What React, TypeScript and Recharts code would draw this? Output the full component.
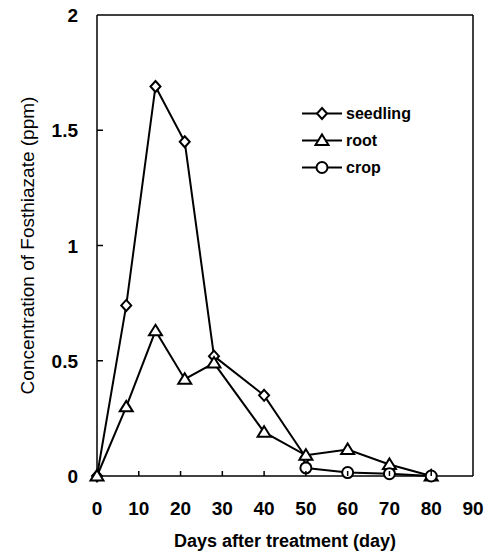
import React from 'react';
import { LineChart, Line, XAxis, YAxis, ReferenceLine, Legend, Label } from 'recharts';

const days = [0, 7, 14, 21, 28, 40, 50, 60, 70, 80];
const seedling = [0, 0.74, 1.69, 1.45, 0.52, 0.35, 0.08, null, null, null];
const root = [0, 0.3, 0.63, 0.42, 0.49, 0.19, 0.09, 0.115, 0.05, 0];
const crop = [null, null, null, null, null, null, 0.035, 0.015, 0.01, 0];

const xTicks = [0, 10, 20, 30, 40, 50, 60, 70, 80, 90];
const yTicks = [0, 0.5, 1, 1.5, 2];

const seriesOrder = ['seedling', 'root', 'crop'];

const data = days.map((d, i) => ({ day: d, seedling: seedling[i], root: root[i], crop: crop[i] }));

const FONT = '"Liberation Sans", Arial, sans-serif';

const Diamond = (cx: number, cy: number, key?: any) => (
  <polygon key={key} points={`${cx},${cy - 5.5} ${cx + 5},${cy} ${cx},${cy + 5.5} ${cx - 5},${cy}`} fill="#fff" stroke="#000" strokeWidth={2} />
);
const Triangle = (cx: number, cy: number, key?: any) => (
  <polygon key={key} points={`${cx},${cy - 6} ${cx + 6.5},${cy + 4.5} ${cx - 6.5},${cy + 4.5}`} fill="#fff" stroke="#000" strokeWidth={2} />
);
const Circle = (cx: number, cy: number, key?: any) => (
  <circle key={key} cx={cx} cy={cy} r={5.5} fill="#fff" stroke="#000" strokeWidth={2} />
);

const markers: Record<string, (cx: number, cy: number, key?: any) => any> = {
  seedling: Diamond,
  root: Triangle,
  crop: Circle,
};

const makeDot = (kind: string) => (props: any) => {
  const { cx, cy, index, value } = props;
  if (value == null || cx == null || cy == null) return <g key={`${kind}-${index}`} />;
  return markers[kind](cx, cy, `${kind}-${index}`);
};

const XTick = (props: any) => {
  const { x, y, payload } = props;
  const v = payload.value;
  return (
    <g>
      {v > 0 && v < 90 && <line x1={x} x2={x} y1={y} y2={y - 5} stroke="#000" strokeWidth={1.5} />}
      <text x={x} y={y + 39} textAnchor="middle" fontFamily={FONT} fontWeight="bold" fontSize={19} fill="#000">
        {v}
      </text>
    </g>
  );
};

const YTick = (props: any) => {
  const { x, y, payload } = props;
  const v = payload.value;
  return (
    <g>
      {v > 0 && v < 2 && <line x1={x} x2={x + 6} y1={y} y2={y} stroke="#000" strokeWidth={1.5} />}
      <text x={x - 19} y={y + 7} textAnchor="end" fontFamily={FONT} fontWeight="bold" fontSize={19} fill="#000">
        {v}
      </text>
    </g>
  );
};

const LegendContent = (props: any) => {
  const payload = [...(props.payload || [])].sort(
    (a: any, b: any) => seriesOrder.indexOf(a.dataKey) - seriesOrder.indexOf(b.dataKey)
  );
  return (
    <div style={{ fontFamily: FONT }}>
      {payload.map((p: any) => (
        <div key={p.dataKey} style={{ display: 'flex', alignItems: 'center', height: 27 }}>
          <svg width={42} height={27} style={{ display: 'block' }}>
            <line x1={1} x2={41} y1={13.5} y2={13.5} stroke="#000" strokeWidth={2} />
            {markers[p.dataKey](21, 13.5)}
          </svg>
          <span style={{ fontSize: 16, fontWeight: 'bold', marginLeft: 3, color: '#000', lineHeight: '27px' }}>
            {p.value}
          </span>
        </div>
      ))}
    </div>
  );
};

export default function App() {
  return (
    <div style={{ position: 'absolute', left: 0, top: 0, width: 495, height: 555, background: '#fff' }}>
      <LineChart width={495} height={555} data={data} margin={{ top: 15, right: 22, left: 0, bottom: 0 }}>
        <XAxis
          dataKey="day"
          type="number"
          domain={[0, 90]}
          ticks={xTicks}
          interval={0}
          height={79}
          tickSize={0}
          tickMargin={0}
          tickLine={false}
          tick={<XTick />}
          axisLine={{ stroke: '#000', strokeWidth: 1.5 }}
        >
          <Label
            value="Days after treatment (day)"
            position="insideBottom"
            offset={8}
            fill="#000"
            style={{ fontFamily: FONT, fontSize: 18, fontWeight: 'bold', fill: '#000' }}
          />
        </XAxis>
        <YAxis
          type="number"
          domain={[0, 2]}
          ticks={yTicks}
          interval={0}
          width={97}
          tickSize={0}
          tickMargin={0}
          tickLine={false}
          tick={<YTick />}
          axisLine={{ stroke: '#000', strokeWidth: 1.5 }}
        >
          <Label
            value="Concentration of Fosthiazate (ppm)"
            angle={-90}
            position="insideLeft"
            offset={27}
            fill="#000"
            style={{ fontFamily: FONT, fontSize: 19, fill: '#000', textAnchor: 'middle' }}
          />
        </YAxis>
        <ReferenceLine y={2} stroke="#000" strokeWidth={1.5} />
        <ReferenceLine x={90} stroke="#000" strokeWidth={1.5} />
        <Legend
          layout="vertical"
          align="center"
          verticalAlign="middle"
          content={<LegendContent />}
          wrapperStyle={{ position: 'absolute', left: 301, top: 100, width: 140 }}
        />
        <Line
          dataKey="seedling"
          name="seedling"
          stroke="#000"
          strokeWidth={2}
          dot={makeDot('seedling')}
          activeDot={false}
          isAnimationActive={false}
        />
        <Line
          dataKey="root"
          name="root"
          stroke="#000"
          strokeWidth={2}
          dot={makeDot('root')}
          activeDot={false}
          isAnimationActive={false}
        />
        <Line
          dataKey="crop"
          name="crop"
          stroke="#000"
          strokeWidth={2}
          dot={makeDot('crop')}
          activeDot={false}
          isAnimationActive={false}
        />
      </LineChart>
    </div>
  );
}
